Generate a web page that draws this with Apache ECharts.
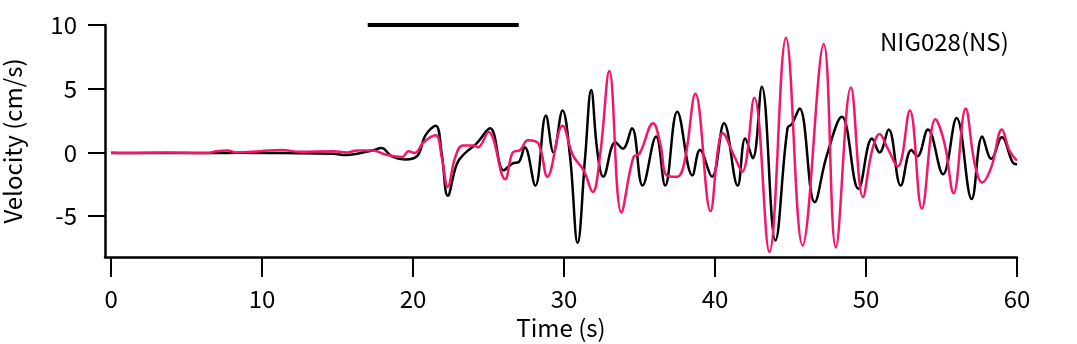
<!DOCTYPE html>
<html>
<head>
<meta charset="utf-8">
<title>NIG028(NS)</title>
<script src="https://cdn.jsdelivr.net/npm/echarts@6.0.0/dist/echarts.min.js"></script>
<style>
  html, body { margin: 0; padding: 0; background: #fff; }
  #chart { width: 1077px; height: 344px; }
</style>
</head>
<body>
<div id="chart"></div>
<script>
// waveforms, [time (s), velocity (cm/s)]
const blackTrace = [
  [0, -0.05], [3.7, -0.05], [7, -0.05], [8.3, -0.02], [11.3, -0.05], [14.7, -0.1], [15.6, -0.2],
  [16.3, -0.1], [17.3, 0.15], [17.9, 0.35], [18.6, -0.3], [19.5, -0.55], [20.3, -0.25], [20.8, 1.3],
  [21.5, 2.1], [21.9, -0.1], [22.3, -3.4], [22.9, -0.9], [23.4, -0.1], [24.2, 0.7], [25.1, 1.9],
  [26.0, -1.4], [26.6, -0.85], [27.0, -0.75], [27.4, 0.4], [28.1, -2.6], [28.8, 2.9], [29.3, 0.0],
  [29.9, 3.3], [30.4, -0.35], [30.9, -7.1], [31.4, -0.35], [31.8, 4.9], [32.2, 0.15], [32.6, -1.9],
  [33.4, 0.8], [33.9, 0.3], [34.5, 1.9], [35.2, -2.6], [36.1, 1.25], [36.7, -2.6], [37.5, 3.2],
  [38.5, -1.8], [39.0, 0.2], [39.8, -1.9], [40.6, 2.3], [41.5, -2.6], [42.0, 1.1], [42.5, -0.45],
  [43.1, 5.15], [44.0, -6.9], [44.8, 1.9], [45.1, 2.25], [45.6, 3.45], [46.6, -3.9], [47.4, -0.25],
  [48.4, 2.8], [49.5, -2.85], [50.4, 1.1], [50.9, 0.0], [51.5, 1.8], [52.3, -2.6], [53.0, 0.2],
  [53.4, -0.3], [54.1, 1.8], [55.1, -1.7], [56.0, 2.7], [57.0, -3.65], [57.7, 1.25], [58.3, -0.5],
  [59.0, 1.2], [59.7, -0.75], [60, -0.95]
]
const pinkTrace = [
  [0, 0], [0.8, -0.05], [3.7, 0], [6.4, -0.05], [7.0, 0.1], [7.7, 0.15], [8.3, 0], [9.9, 0.1],
  [11.3, 0.2], [12.5, 0.05], [14.7, 0.1], [15.6, 0.0], [16.3, 0.15], [17.3, 0.15], [18.3, -0.2],
  [19.3, -0.35], [19.7, 0.1], [20.1, -0.05], [20.7, 0.8], [21.5, 1.35], [21.9, -0.35], [22.3, -2.7],
  [22.8, -0.35], [23.3, 0.55], [24.0, 0.55], [24.3, 0.4], [25.0, 1.6], [26.1, -2.1], [26.6, 0.0],
  [27.1, 0.2], [27.6, 0.95], [28.3, 0.7], [28.9, -1.9], [29.9, 2.1], [30.6, -0.25], [31.3, -1.4],
  [31.9, -3.1], [32.4, -0.1], [33.0, 6.4], [33.8, -4.7], [34.6, -0.35], [35.0, -0.1], [35.9, 2.3],
  [36.4, 0.55], [36.8, -1.8], [37.5, -1.9], [38.0, -0.6], [38.7, 4.6], [39.7, -4.6], [40.2, 0.3],
  [40.5, 1.5], [41.2, -0.1], [41.8, -1.5], [42.6, 4.3], [43.6, -7.8], [44.7, 9.0], [45.8, -7.3],
  [47.2, 8.5], [48.0, -7.45], [49.0, 5.1], [49.8, -3.5], [50.4, 0.15], [50.9, 1.45], [51.4, 0.4],
  [52.1, -1.1], [52.9, 3.3], [53.7, -4.4], [54.6, 2.6], [55.2, 0.7], [55.8, -3.2], [56.6, 3.45],
  [57.2, -0.9], [57.7, -2.35], [58.3, -1.15], [59.0, 1.8], [59.5, 0.15], [60, -0.65]
]
// thick bar along the top of the plot
const markBar = [[17, 10], [27, 10]]
const timeTicks = [0, 10, 20, 30, 40, 50, 60]
const velTicks = [-5, 0, 5, 10]
const stationName = 'NIG028(NS)'

const font = '"Noto Sans CJK JP", sans-serif'
const chart = echarts.init(document.getElementById('chart'), null, { renderer: 'canvas' })

chart.setOption({
  backgroundColor: '#fff',
  animation: false,
  grid: {
    left: 105,
    right: 60,
    top: 25,
    bottom: 87,
    containLabel: false,
    outerBoundsMode: 'none'
  },
  xAxis: {
    type: 'value',
    min: -0.4,
    max: 60,
    name: 'Time (s)',
    nameLocation: 'middle',
    nameGap: 58,
    nameTextStyle: { color: '#000', fontSize: 24, fontFamily: font },
    axisLine: { onZero: false, lineStyle: { color: '#000', width: 2.5 } },
    axisTick: {
      show: true,
      customValues: timeTicks,
      length: 20,
      lineStyle: { color: '#000', width: 2 }
    },
    axisLabel: {
      customValues: timeTicks,
      margin: 30,
      color: '#000',
      fontSize: 24,
      fontFamily: font
    },
    splitLine: { show: false }
  },
  yAxis: {
    type: 'value',
    min: -8.2,
    max: 10,
    name: 'Velocity (cm/s)',
    nameLocation: 'middle',
    nameGap: 80,
    nameTextStyle: { color: '#000', fontSize: 24, fontFamily: font },
    axisLine: { show: true, onZero: false, lineStyle: { color: '#000', width: 2.5 } },
    axisTick: {
      show: true,
      customValues: velTicks,
      length: 17,
      lineStyle: { color: '#000', width: 2 }
    },
    axisLabel: {
      customValues: velTicks,
      margin: 28,
      color: '#000',
      fontSize: 24,
      fontFamily: font
    },
    splitLine: { show: false }
  },
  graphic: [
    {
      type: 'text',
      left: 880,
      top: 30,
      style: { text: stationName, fill: '#000', font: '24px ' + font }
    }
  ],
  series: [
    {
      name: 'black',
      type: 'line',
      data: blackTrace,
      smooth: 0.4,
      showSymbol: false,
      lineStyle: { color: '#000', width: 2.5 },
      z: 2
    },
    {
      name: 'pink',
      type: 'line',
      data: pinkTrace,
      smooth: 0.4,
      showSymbol: false,
      lineStyle: { color: '#f5156c', width: 2.5 },
      z: 3
    },
    {
      name: 'bar',
      type: 'line',
      data: markBar,
      clip: false,
      showSymbol: false,
      lineStyle: { color: '#000', width: 4 },
      z: 4
    }
  ]
})
</script>
</body>
</html>
